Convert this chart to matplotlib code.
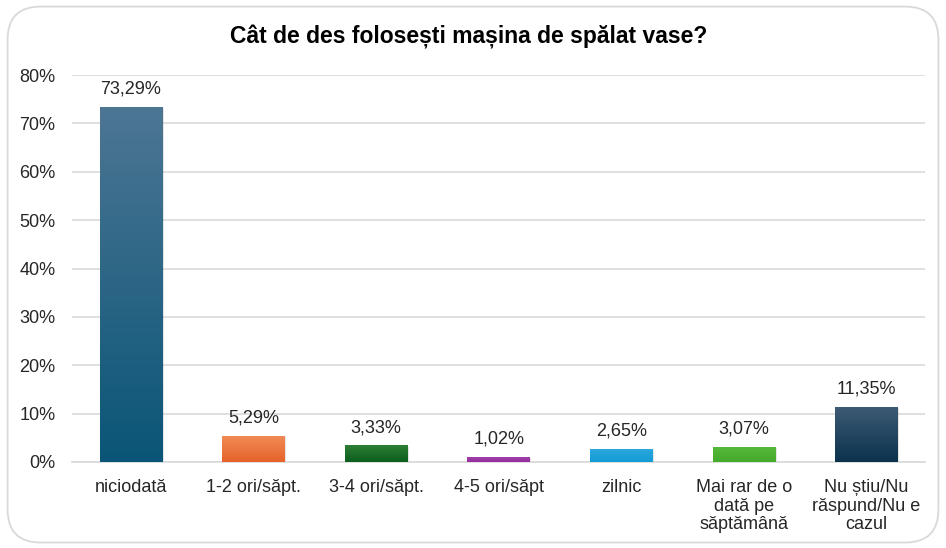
import numpy as np
import matplotlib.pyplot as plt
from matplotlib.colors import LinearSegmentedColormap
from matplotlib.patches import FancyBboxPatch

plt.rcParams['font.family'] = ['Liberation Sans', 'DejaVu Sans']

# date
categorii = ['niciodată', '1-2 ori/săpt.', '3-4 ori/săpt.', '4-5 ori/săpt', 'zilnic',
             'Mai rar de o\ndată pe\nsăptămână', 'Nu știu/Nu\nrăspund/Nu e\ncazul']
valori = [73.29, 5.29, 3.33, 1.02, 2.65, 3.07, 11.35]
etichete = ['73,29%', '5,29%', '3,33%', '1,02%', '2,65%', '3,07%', '11,35%']
culori_sus = ['#4d7694', '#f28a55', '#2d7d35', '#a040a8', '#2aa8de', '#55b83a', '#3d5a74']
culori_jos = ['#0a5577', '#e6622a', '#0b5e1c', '#962c9e', '#139bd6', '#44aa2c', '#0b324d']

fig = plt.figure(figsize=(9.46, 5.48), dpi=100)
ax = fig.add_axes([0.0761, 0.157, 0.902, 0.706])

# chenar rotunjit
chenar = FancyBboxPatch((0.008, 0.01), 0.984, 0.978, boxstyle='round,pad=0,rounding_size=0.035',
                        transform=fig.transFigure, fill=False, edgecolor='#d9d9d9', linewidth=1.3,
                        mutation_aspect=946 / 548)
fig.patches.append(chenar)

x = np.arange(len(valori))
latime = 0.51
bare = ax.bar(x, valori, width=latime, color='none', zorder=3)

for i, b in enumerate(bare):
    x0, y0 = b.get_x(), b.get_y()
    w, h = b.get_width(), b.get_height()
    cmap = LinearSegmentedColormap.from_list('g%d' % i, [culori_jos[i], culori_sus[i]])
    grad = np.linspace(0, 1, 256).reshape(-1, 1)
    # umbra
    ax.bar(x0 + w / 2 + 0.012, h, width=w, bottom=y0 - 0.2, color='#000000', alpha=0.10, zorder=2)
    ax.imshow(grad, cmap=cmap, extent=(x0, x0 + w, y0, y0 + h), origin='lower',
              aspect='auto', zorder=3)
    ax.text(b.get_x() + w / 2, h + 2.0, etichete[i], ha='center', va='bottom',
            fontsize=13, color='#262626', zorder=4)

ax.set_xlim(-0.48, 6.48)
ax.set_ylim(0, 80)
ax.set_yticks(np.arange(0, 81, 10))
ax.set_yticklabels(['%d%%' % v for v in range(0, 81, 10)], fontsize=13, color='#262626')
ax.set_xticks(x)
ax.set_xticklabels(categorii, fontsize=13, color='#262626', linespacing=1.12)
ax.tick_params(axis='both', length=0)
ax.tick_params(axis='y', pad=12)
ax.tick_params(axis='x', pad=12.5)
ax.grid(axis='y', color='#d9d9d9', linewidth=1.2, zorder=0)
ax.set_axisbelow(True)
for s in ['top', 'right', 'left']:
    ax.spines[s].set_visible(False)
ax.spines['bottom'].set_color('#d9d9d9')
ax.spines['bottom'].set_linewidth(1.2)

fig.text(0.495, 0.933, 'Cât de des folosești mașina de spălat vase?', ha='center', va='center',
         fontsize=16.5, fontweight='bold', color='#000000')

fig.savefig('out.png', dpi=100)
